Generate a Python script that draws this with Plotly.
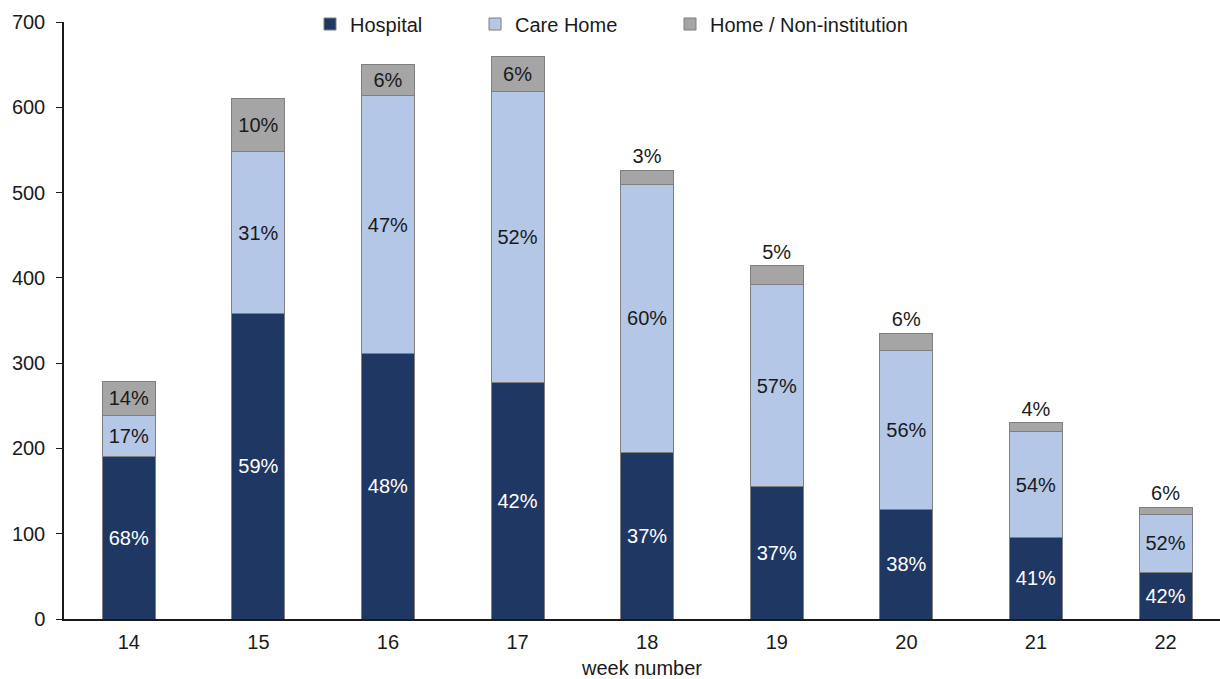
import plotly.graph_objects as go

weeks = ["14", "15", "16", "17", "18", "19", "20", "21", "22"]
hospital = [191, 358, 311, 277, 195, 155, 128, 95, 55]
care_home = [48, 190, 303, 342, 315, 237, 187, 125, 68]
home_non_inst = [40, 62, 36, 41, 16, 22, 20, 10, 8]
home_label_pos = ["inside", "inside", "inside", "inside", "outside", "outside", "outside", "outside", "outside"]

totals = [a + b + c for a, b, c in zip(hospital, care_home, home_non_inst)]


def pct(vals):
    return [f"{int(v / t * 100 + 0.5)}%" for v, t in zip(vals, totals)]


FONT = "Liberation Sans, Arial, sans-serif"
FS = 20
W, H = 1220, 679
line = dict(color="#7f7f7f", width=1)

fig = go.Figure()
fig.add_trace(go.Bar(
    name="Hospital", x=weeks, y=hospital, text=pct(hospital),
    textposition="inside", insidetextanchor="middle",
    textfont=dict(color="white", size=FS, family=FONT),
    marker=dict(color="#1f3763", line=line), width=0.41,
    legend="legend",
))
fig.add_trace(go.Bar(
    name="Care Home", x=weeks, y=care_home, text=pct(care_home),
    textposition="inside", insidetextanchor="middle",
    textfont=dict(color="#1a1a1a", size=FS, family=FONT),
    marker=dict(color="#b4c7e7", line=line), width=0.41,
    legend="legend2",
))
fig.add_trace(go.Bar(
    name="Home / Non-institution", x=weeks, y=home_non_inst, text=pct(home_non_inst),
    textposition=home_label_pos, insidetextanchor="middle",
    textfont=dict(color="#1a1a1a", size=FS, family=FONT),
    marker=dict(color="#a5a5a5", line=line), width=0.41,
    cliponaxis=False, legend="legend3",
))


def leg(px_left):
    return dict(
        xref="container", yref="container",
        x=px_left / W, xanchor="left", y=1 - 24 / H, yanchor="middle",
        orientation="h", font=dict(size=FS, family=FONT, color="#1a1a1a"),
        bgcolor="rgba(0,0,0,0)", borderwidth=0, itemwidth=30,
    )


fig.update_layout(
    barmode="stack",
    width=W, height=H,
    margin=dict(l=64, r=0, t=22, b=60, autoexpand=False),
    plot_bgcolor="white", paper_bgcolor="white",
    font=dict(family=FONT, size=FS, color="#1a1a1a"),
    uniformtext=dict(minsize=FS, mode="show"),
    showlegend=True,
    legend=leg(310), legend2=leg(475), legend3=leg(670),
    xaxis=dict(
        type="category", range=[-0.5, 8.42], automargin=False,
        showline=True, linecolor="#1a1a1a", linewidth=1.5,
        ticks="", showgrid=False, ticklabelstandoff=4,
        title=dict(text="week number", font=dict(size=FS, family=FONT), standoff=12),
        tickfont=dict(size=FS, family=FONT),
    ),
    yaxis=dict(
        range=[0, 700], dtick=100, automargin=False,
        showline=True, linecolor="#1a1a1a", linewidth=1.5,
        ticks="outside", ticklen=6, tickcolor="#1a1a1a", ticklabelstandoff=7,
        showgrid=False, zeroline=False,
        tickfont=dict(size=FS, family=FONT),
    ),
)

fig.write_html(
    "out.html",
    config={"displayModeBar": False},
    post_script="document.body.style.margin='0';document.body.style.overflow='hidden';",
)
